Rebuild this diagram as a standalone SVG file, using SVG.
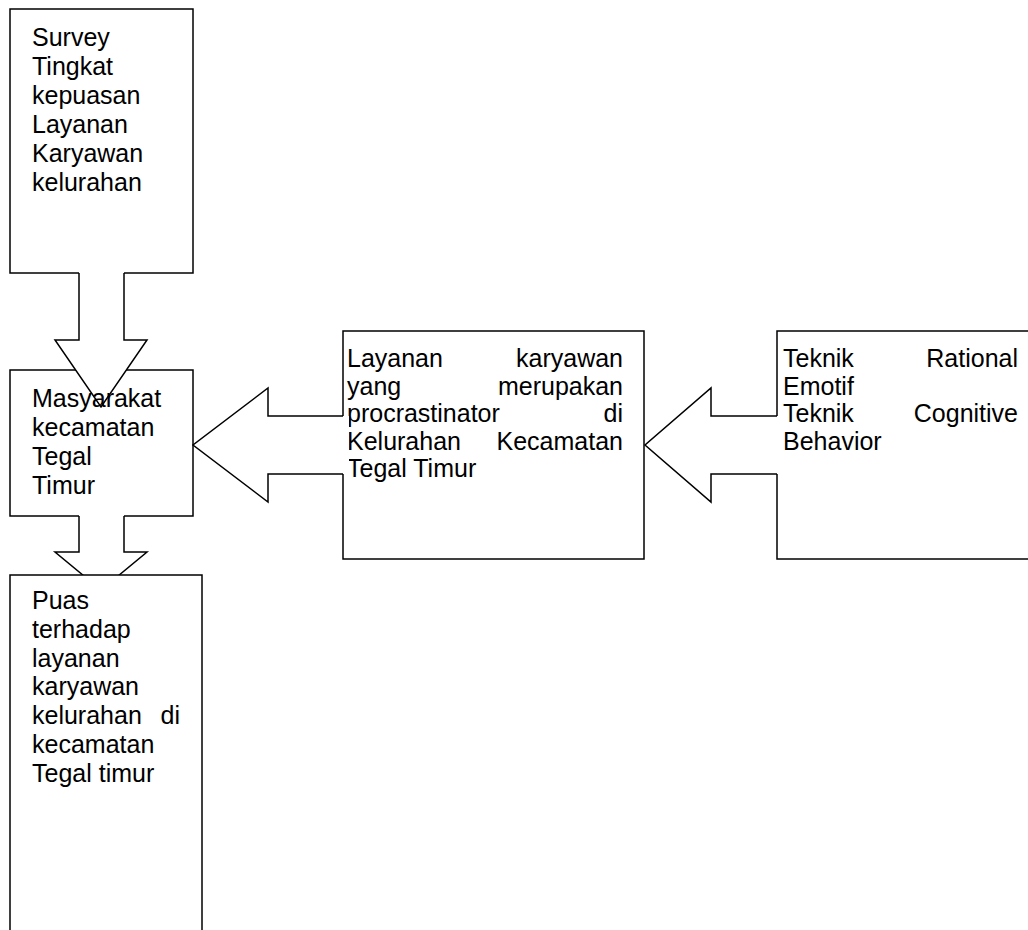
<svg xmlns="http://www.w3.org/2000/svg" width="1028" height="930" viewBox="0 0 1028 930">
<style>
.box{fill:#fff;stroke:#000;stroke-width:1.5}
.ol{fill:none;stroke:#000;stroke-width:1.5;stroke-linejoin:miter}
.cov{fill:#fff;stroke:none}
text{font-family:"Liberation Sans",Arial,sans-serif;font-size:25px;fill:#000}
.e{text-anchor:end}
</style>
<rect width="1028" height="930" fill="#fff"/>
<g id="node-survey">
<rect class="box" x="10" y="9" width="183" height="264"/>
<text x="32" y="46">Survey</text>
<text x="32" y="75">Tingkat</text>
<text x="32" y="104">kepuasan</text>
<text x="32" y="133">Layanan</text>
<text x="32" y="162">Karyawan</text>
<text x="32" y="191">kelurahan</text>
</g>
<g id="node-layanan">
<rect class="box" x="343" y="331" width="301" height="228"/>
<text x="347" y="367">Layanan</text><text class="e" x="623" y="367">karyawan</text>
<text x="347" y="394.5">yang</text><text class="e" x="623" y="394.5">merupakan</text>
<text x="347" y="422">procrastinator</text><text class="e" x="623" y="422">di</text>
<text x="347" y="449.5">Kelurahan</text><text class="e" x="623" y="449.5">Kecamatan</text>
<text x="347" y="477">Tegal Timur</text>
</g>
<g id="node-teknik">
<rect class="box" x="777" y="331" width="270" height="228"/>
<text x="783" y="367">Teknik</text><text class="e" x="1018" y="367">Rational</text>
<text x="783" y="394.5">Emotif</text>
<text x="783" y="422">Teknik</text><text class="e" x="1018" y="422">Cognitive</text>
<text x="783" y="449.5">Behavior</text>
</g>
<g id="node-masyarakat">
<rect class="box" x="10" y="370" width="183" height="146"/>
<text x="32" y="407">Masyarakat</text>
<text x="32" y="436">kecamatan</text>
<text x="32" y="465">Tegal</text>
<text x="32" y="494">Timur</text>
</g>
<g id="connectors">
<polygon class="cov" points="79,268 124,268 124,340 147,340 125,372 77,372 55,340 79,340"/>
<polyline class="ol" points="79,273 79,340 55,340 101,407 147,340 124,340 124,273"/>
<polygon class="cov" points="79,510 124,510 124,552 147,552 101,590 55,552 79,552"/>
<polyline class="ol" points="79,516 79,552 55,552 101,590 147,552 124,552 124,516"/>
<polygon class="cov" points="349,416 268,416 268,388 193,445 268,502 268,474 349,474"/>
<polyline class="ol" points="343,416 268,416 268,388 193,445 268,502 268,474 343,474"/>
<polygon class="cov" points="783,416 711,416 711,388 645,445 711,502 711,474 783,474"/>
<polyline class="ol" points="777,416 711,416 711,388 645,445 711,502 711,474 777,474"/>
</g>
<g id="node-puas">
<rect class="box" x="10" y="575" width="192" height="370"/>
<text x="32" y="609">Puas</text>
<text x="32" y="637.75">terhadap</text>
<text x="32" y="666.5">layanan</text>
<text x="32" y="695.25">karyawan</text>
<text x="32" y="724">kelurahan</text><text class="e" x="180" y="724">di</text>
<text x="32" y="752.75">kecamatan</text>
<text x="32" y="781.5">Tegal timur</text>
</g>
</svg>
